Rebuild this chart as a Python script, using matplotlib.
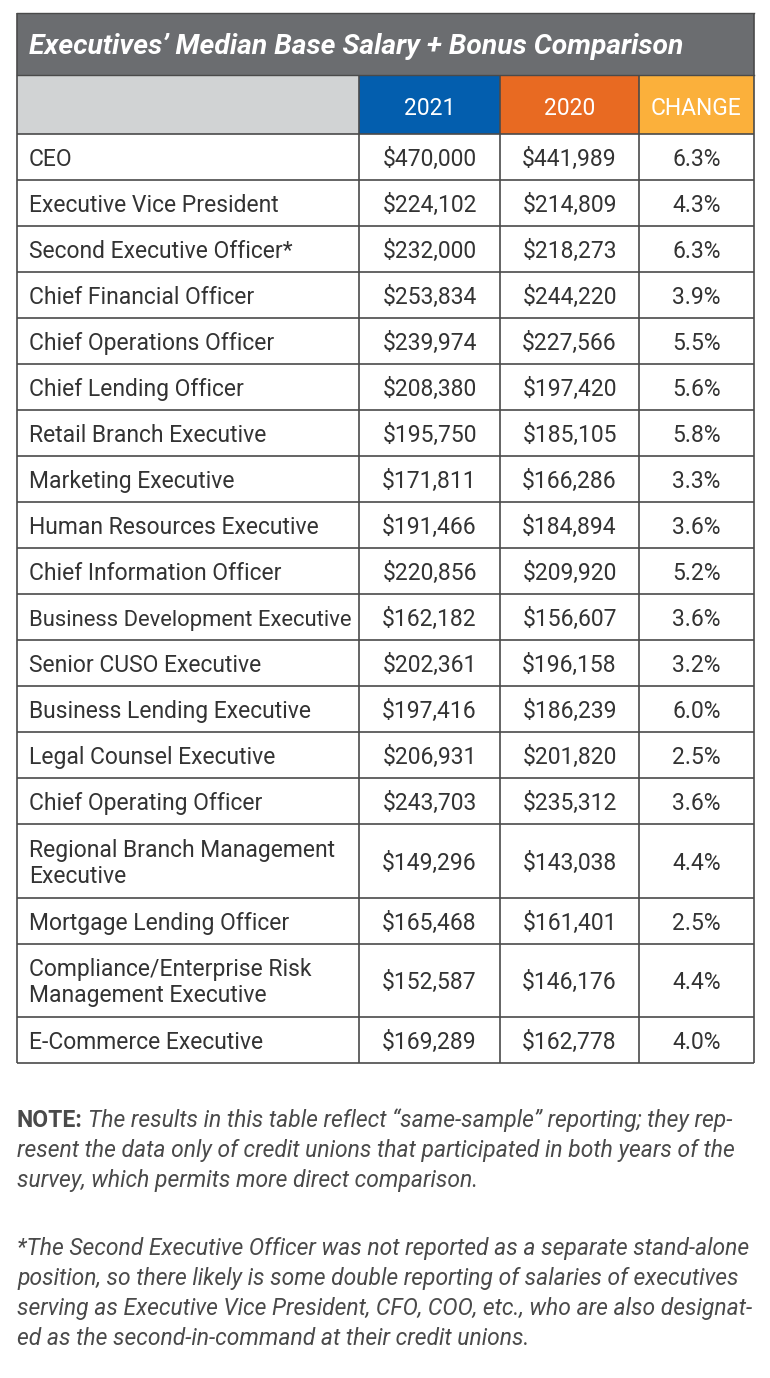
import matplotlib
matplotlib.use("Agg")
import matplotlib.pyplot as plt
from matplotlib.patches import Rectangle

plt.rcParams['font.family'] = ['Roboto', 'DejaVu Sans']

# ---------------- data ----------------
title = "Executives\u2019 Median Base Salary + Bonus Comparison"
col_headers = ["2021", "2020", "CHANGE"]
roles = [
    "CEO",
    "Executive Vice President",
    "Second Executive Officer*",
    "Chief Financial Officer",
    "Chief Operations Officer",
    "Chief Lending Officer",
    "Retail Branch Executive",
    "Marketing Executive",
    "Human Resources Executive",
    "Chief Information Officer",
    "Business Development Executive",
    "Senior CUSO Executive",
    "Business Lending Executive",
    "Legal Counsel Executive",
    "Chief Operating Officer",
    "Regional Branch Management\nExecutive",
    "Mortgage Lending Officer",
    "Compliance/Enterprise Risk\nManagement Executive",
    "E-Commerce Executive",
]
salary_2021 = [470000, 224102, 232000, 253834, 239974, 208380, 195750, 171811,
               191466, 220856, 162182, 202361, 197416, 206931, 243703, 149296,
               165468, 152587, 169289]
salary_2020 = [441989, 214809, 218273, 244220, 227566, 197420, 185105, 166286,
               184894, 209920, 156607, 196158, 186239, 201820, 235312, 143038,
               161401, 146176, 162778]
change_pct = [6.3, 4.3, 6.3, 3.9, 5.5, 5.6, 5.8, 3.3, 3.6, 5.2, 3.6, 3.2, 6.0,
              2.5, 3.6, 4.4, 2.5, 4.4, 4.0]

note_lines_1 = [
    "The results in this table reflect \u201csame-sample\u201d reporting; they rep-",
    "resent the data only of credit unions that participated in both years of the",
    "survey, which permits more direct comparison.",
]
note_lines_2 = [
    "*The Second Executive Officer was not reported as a separate stand-alone",
    "position, so there likely is some double reporting of salaries of executives",
    "serving as Executive Vice President, CFO, COO, etc., who are also designat-",
    "ed as the second-in-command at their credit unions.",
]

# ---------------- layout (pixel space) ----------------
W, H = 770, 1378
fig = plt.figure(figsize=(W / 100, H / 100), dpi=100)
ax = fig.add_axes([0, 0, 1, 1])
ax.set_xlim(0, W)
ax.set_ylim(H, 0)
ax.axis('off')
renderer = fig.canvas.get_renderer()

PT = 0.72  # points per pixel at dpi 100

x_edges = [17, 359, 500, 639, 754]
title_top, header_top, header_bot = 13, 75, 134
row_single, row_double = 46, 73.5

line_color = "#4a4a4a"
text_color = "#333333"
title_bg = "#6b6d70"
header_bg = ["#d1d3d4", "#035eae", "#e86a22", "#fbb03b"]


def text_width(s, size, **kw):
    t = ax.text(0, 0, s, fontsize=size, **kw)
    w = t.get_window_extent(renderer).width
    t.remove()
    return w


def fit_size(s, target_px, **kw):
    return 20 * target_px / text_width(s, 20, **kw)


# title bar
ax.add_patch(Rectangle((x_edges[0], title_top), x_edges[-1] - x_edges[0],
                       header_top - title_top, facecolor=title_bg,
                       edgecolor='none'))
tsize = fit_size(title, 654, fontweight='bold', fontstyle='italic')
ax.text(29, 54, title, color='white', fontsize=tsize, fontweight='bold',
        fontstyle='italic', ha='left', va='baseline')

# header row
for i in range(4):
    ax.add_patch(Rectangle((x_edges[i], header_top), x_edges[i + 1] - x_edges[i],
                           header_bot - header_top, facecolor=header_bg[i],
                           edgecolor='none'))

body_size = fit_size("Human Resources Executive", 289)
cap_px = body_size / PT * 0.711
max_label_w = 322

hy = (header_top + header_bot) / 2 + cap_px / 2 + 2
for i, h in enumerate(col_headers):
    cx = (x_edges[i + 1] + x_edges[i + 2]) / 2
    ax.text(cx, hy, h, color='white', fontsize=body_size, ha='center',
            va='baseline')

# body rows
y = header_bot
row_bounds = [y]
for r, role in enumerate(roles):
    lines = role.split("\n")
    nlines = len(lines)
    h = row_single if nlines == 1 else row_double
    cy = y + h / 2 + 1
    gap = 26
    for k, ln in enumerate(lines):
        size = body_size
        w = text_width(ln, size)
        if w > max_label_w:
            size = size * max_label_w / w
        by = cy + cap_px / 2 + (k - (nlines - 1) / 2) * gap
        ax.text(29, by, ln, color=text_color, fontsize=size,
                ha='left', va='baseline')
    vals = [f"${salary_2021[r]:,}", f"${salary_2020[r]:,}", f"{change_pct[r]:.1f}%"]
    for i, v in enumerate(vals):
        cx = (x_edges[i + 1] + x_edges[i + 2]) / 2
        ax.text(cx, cy + cap_px / 2, v, color=text_color, fontsize=body_size,
                ha='center', va='baseline')
    y += h
    row_bounds.append(y)

# grid lines
table_bot = row_bounds[-1]
for yb in row_bounds:
    ax.plot([x_edges[0], x_edges[-1]], [yb, yb], color=line_color, lw=1.2,
            solid_capstyle='butt')
ax.plot([x_edges[0], x_edges[-1]], [header_top, header_top], color=line_color,
        lw=1.0)
for i, xe in enumerate(x_edges):
    top = title_top if i in (0, len(x_edges) - 1) else header_top
    ax.plot([xe, xe], [top, table_bot], color=line_color, lw=1.2,
            solid_capstyle='butt')
ax.plot([x_edges[0], x_edges[-1]], [title_top, title_top], color=line_color,
        lw=1.0)

# notes
note_color = "#4a4a4a"
nsize = fit_size("NOTE: " + note_lines_1[0], 711, fontstyle='italic')
nx = 17
base1 = [1127, 1157, 1187]
t = ax.text(nx, base1[0], "NOTE:", color=note_color, fontsize=nsize,
            fontweight='bold', ha='left', va='baseline')
wnote = t.get_window_extent(renderer).width
w_space = (text_width("a a", nsize, fontstyle='italic')
           - text_width("aa", nsize, fontstyle='italic'))
ax.text(nx + wnote + w_space, base1[0], note_lines_1[0], color=note_color,
        fontsize=nsize, fontstyle='italic', ha='left', va='baseline')
for k in range(1, len(note_lines_1)):
    ax.text(nx, base1[k], note_lines_1[k], color=note_color, fontsize=nsize,
            fontstyle='italic', ha='left', va='baseline')
base2 = [1255, 1285, 1315, 1345]
for k, ln in enumerate(note_lines_2):
    ax.text(nx, base2[k], ln, color=note_color, fontsize=nsize,
            fontstyle='italic', ha='left', va='baseline')

fig.savefig("out.png", dpi=100, facecolor='white')
